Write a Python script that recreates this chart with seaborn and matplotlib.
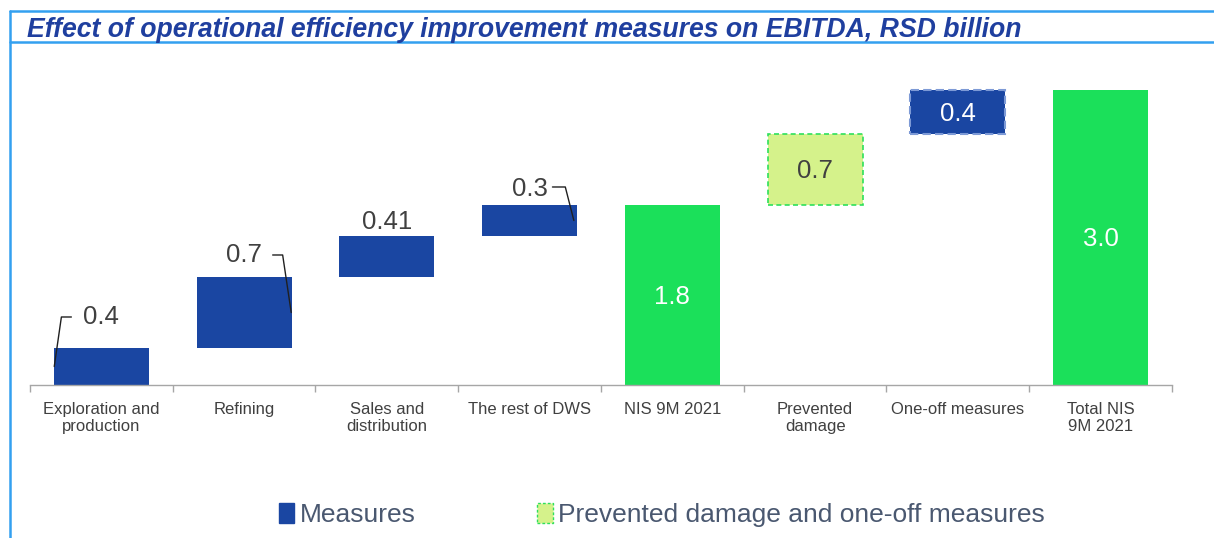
import numpy as np
import seaborn as sns
import matplotlib
matplotlib.use("Agg")
import matplotlib.pyplot as plt
from matplotlib.lines import Line2D
from matplotlib.patches import Patch

sns.set_theme(style="white")
plt.rcParams["font.family"] = ["Liberation Sans", "DejaVu Sans"]

# ==========================
# DADOS
# ==========================
categorias = ["Exploration and\nproduction", "Refining", "Sales and\ndistribution",
              "The rest of DWS", "NIS 9M 2021", "Prevented\ndamage",
              "One-off measures", "Total NIS\n9M 2021"]
medidas = [0.37, 0.71, 0.41, 0.31]
prevenido = 0.71
pontuais = 0.44
rotulos = ["0.4", "0.7", "0.41", "0.3", "1.8", "0.7", "0.4", "3.0"]

subtotal = sum(medidas)
total = subtotal + prevenido + pontuais

alturas = medidas + [subtotal, prevenido, pontuais, total]
bases = list(np.concatenate([[0], np.cumsum(medidas)[:-1]])) + [0, subtotal, subtotal + prevenido, 0]

azul = "#1a46a2"
verde = "#1be05a"
verde_claro = "#d5f28b"
cores = [azul] * 4 + [verde, verde_claro, azul, verde]

# ==========================
# FIGURA
# ==========================
fig = plt.figure(figsize=(12.14, 5.38), dpi=100)
ax = fig.add_axes([0.0247, 0.2844, 0.9407, 0.6041])

sns.barplot(x=categorias, y=alturas, bottom=bases, color=azul, width=0.665,
            errorbar=None, ax=ax)

for i, p in enumerate(ax.patches):
    p.set_facecolor(cores[i])
    p.set_linewidth(0)
ax.patches[5].set_edgecolor("#2ee05c")
ax.patches[5].set_linewidth(1.2)
ax.patches[5].set_linestyle((0, (3, 2)))
ax.patches[6].set_edgecolor("#7d9ad6")
ax.patches[6].set_linewidth(1.5)
ax.patches[6].set_linestyle((0, (4, 2)))

ax.set_xlim(-0.5, 7.5)
ax.set_ylim(0, 3.25)
ax.set_yticks([])
for lado in ["left", "right", "top"]:
    ax.spines[lado].set_visible(False)
ax.spines["bottom"].set_color("#a6a6a6")
ax.spines["bottom"].set_linewidth(1)
ax.set_xticks(range(len(categorias)))
ax.set_xticklabels(categorias, linespacing=1.2)
ax.set_xticks(np.arange(-0.5, 8, 1), minor=True)
ax.tick_params(axis="x", which="major", length=0, pad=12, labelsize=12, labelcolor="#404040")
ax.tick_params(axis="x", which="minor", length=5, width=1, color="#a6a6a6", direction="out", bottom=True)
ax.set_xlabel("")

# rótulos externos com linhas de chamada
desloc = [0.31, 0.22, 0.14, 0.16]
for i in range(4):
    topo = bases[i] + alturas[i]
    meio = bases[i] + alturas[i] / 2
    y_rot = topo + desloc[i]
    ax.text(i, y_rot, rotulos[i], ha="center", va="center", fontsize=18.5, color="#404040")
    if i == 0:
        ax.plot([i - 0.33, i - 0.28, i - 0.21], [meio, y_rot, y_rot], color="#202020", lw=1)
    elif i == 1:
        ax.plot([i + 0.20, i + 0.27, i + 0.33], [y_rot, y_rot, meio], color="#202020", lw=1)
    elif i == 3:
        ax.plot([i + 0.16, i + 0.25, i + 0.31], [y_rot + 0.02, y_rot + 0.02, meio], color="#202020", lw=1)

# rótulos internos
cor_interna = ["white", "#404040", "white", "white"]
for k, i in enumerate(range(4, 8)):
    ax.text(i, bases[i] + alturas[i] / 2 - 0.02, rotulos[i], ha="center", va="center",
            fontsize=18.5, color=cor_interna[k])

# moldura e título
cor_moldura = "#33a0f0"
fig.add_artist(Line2D([0.0082, 1], [0.9796, 0.9796], color=cor_moldura, lw=1.8))
fig.add_artist(Line2D([0.0082, 1], [0.9219, 0.9219], color=cor_moldura, lw=1.8))
fig.add_artist(Line2D([0.0082, 0.0082], [0, 0.9796], color=cor_moldura, lw=1.8))
fig.text(0.0222, 0.9445, "Effect of operational efficiency improvement measures on EBITDA, RSD billion",
         fontsize=19.2, fontweight="bold", fontstyle="italic", color="#1f3f9f",
         ha="left", va="center")

# legenda
handles = [Patch(facecolor=azul, edgecolor=azul),
           Patch(facecolor=verde_claro, edgecolor="#2ee05c", linestyle=(0, (2, 1.5)), linewidth=1)]
fig.legend(handles, ["Measures", "Prevented damage and one-off measures"], ncol=2,
           loc="center", bbox_to_anchor=(0.545, 0.043), frameon=False, fontsize=19,
           labelcolor="#4a5870", handlelength=0.6, handleheight=0.8, handletextpad=0.2,
           columnspacing=4.6)

fig.savefig("out.png", dpi=100)
